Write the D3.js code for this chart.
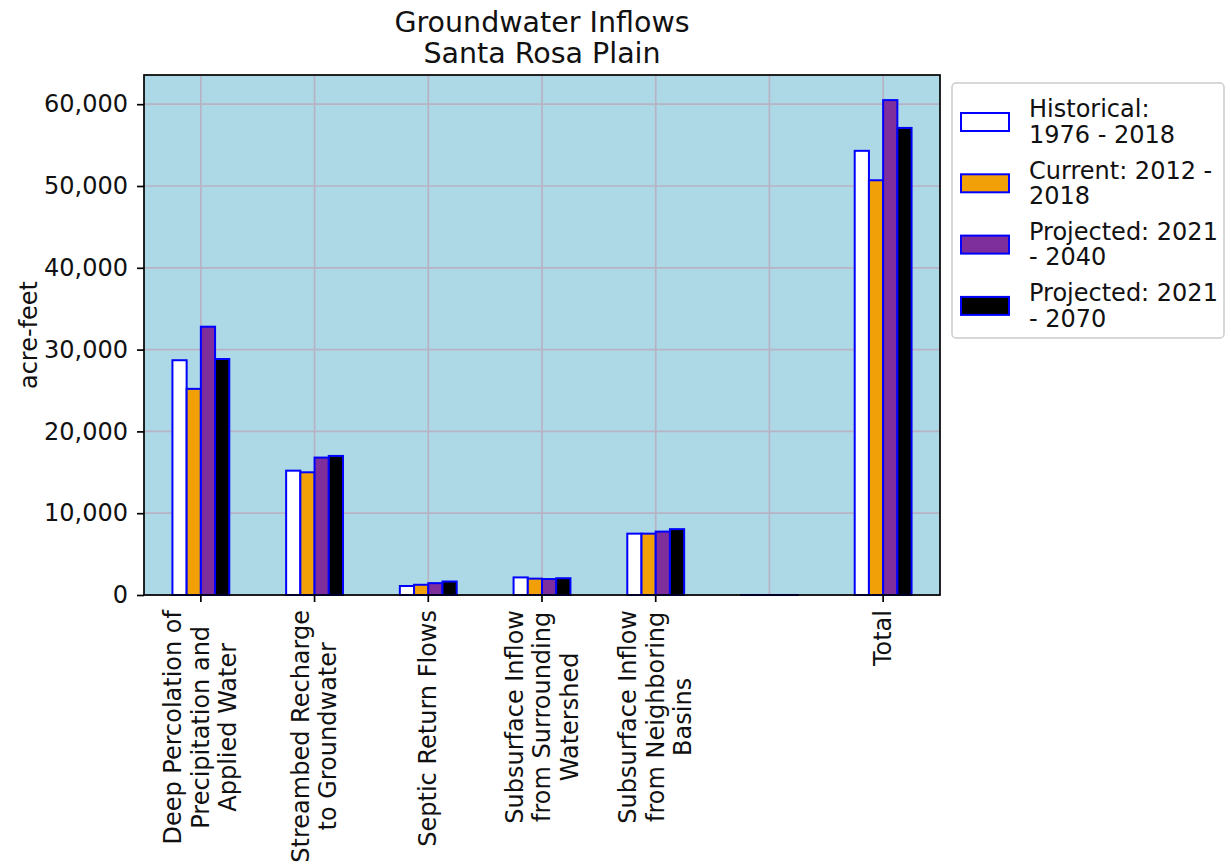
<!DOCTYPE html>
<html>
<head>
<meta charset="utf-8">
<script src="https://cdn.jsdelivr.net/npm/d3@7"></script>
<style>
  html, body { margin: 0; padding: 0; background: #ffffff; }
  svg { display: block; font-family: "DejaVu Sans", sans-serif; }
</style>
</head>
<body>
<svg id="chart" width="1231" height="867"></svg>
<script>
// Groundwater inflow budget components (acre-feet per year)
const categories = [
  "Deep Percolation of\nPrecipitation and\nApplied Water",
  "Streambed Recharge\nto Groundwater",
  "Septic Return Flows",
  "Subsurface Inflow\nfrom Surrounding\nWatershed",
  "Subsurface Inflow\nfrom Neighboring\nBasins",
  "",
  "Total"
];
const seriesNames = [
  "Historical:\n1976 - 2018",
  "Current: 2012 -\n2018",
  "Projected: 2021\n- 2040",
  "Projected: 2021\n- 2070"
];
const historical = [28700, 15200, 1100, 2150, 7500, 0, 54300];
const current    = [25200, 15000, 1250, 2000, 7500, 0, 50700];
const proj2040   = [32800, 16800, 1450, 1950, 7750, 0, 60500];
const proj2070   = [28850, 17000, 1650, 2050, 8050, 0, 57100];
const yTicks = [0, 10000, 20000, 30000, 40000, 50000, 60000];
const seriesColors = ["#ffffff", "#f2a007", "#7f2f9c", "#000000"];

const seriesValues = [historical, current, proj2040, proj2070];

const svg = d3.select("#chart");
const plot = { left: 144, right: 940, top: 75, bottom: 595 };
const fontSize = "24px";

// Category bands: one per slot, tick at band centre
const x = d3.scaleBand()
  .domain(d3.range(categories.length))
  .range([plot.left, plot.right])
  .padding(0);

// Four bars per slot occupying the middle half of the band
const xs = d3.scaleBand()
  .domain(d3.range(seriesNames.length))
  .range([0, x.bandwidth()])
  .paddingInner(0)
  .paddingOuter(2);

const y = d3.scaleLinear()
  .domain([0, 63570])
  .range([plot.bottom, plot.top]);

// Plot background
svg.append("rect")
  .attr("x", plot.left).attr("y", plot.top)
  .attr("width", plot.right - plot.left)
  .attr("height", plot.bottom - plot.top)
  .attr("fill", "#add8e6");

// Grid
const grid = svg.append("g");
grid.selectAll("line.h").data(yTicks).join("line")
  .attr("x1", plot.left).attr("x2", plot.right)
  .attr("y1", d => y(d)).attr("y2", d => y(d))
  .attr("stroke", "#b7b3c4").attr("stroke-width", 1.7);
grid.selectAll("line.v").data(d3.range(categories.length)).join("line")
  .attr("x1", d => x(d) + x.bandwidth() / 2).attr("x2", d => x(d) + x.bandwidth() / 2)
  .attr("y1", plot.top).attr("y2", plot.bottom)
  .attr("stroke", "#b7b3c4").attr("stroke-width", 1.7);

// Bars (zero-valued bars keep a hairline so their edge still shows)
const bars = svg.append("g");
seriesValues.forEach((vals, s) => {
  bars.append("g").selectAll("rect").data(vals).join("rect")
    .attr("x", (d, i) => x(i) + xs(s))
    .attr("y", d => Math.min(y(d), y(0) - 0.01))
    .attr("width", xs.bandwidth())
    .attr("height", d => Math.max(y(0) - y(d), 0.01))
    .attr("fill", seriesColors[s])
    .attr("stroke", "#0000ff")
    .attr("stroke-width", 2);
});

// Frame
svg.append("rect")
  .attr("x", plot.left).attr("y", plot.top)
  .attr("width", plot.right - plot.left)
  .attr("height", plot.bottom - plot.top)
  .attr("fill", "none").attr("stroke", "#000").attr("stroke-width", 1.7);

// Y axis
const yAxis = svg.append("g")
  .attr("transform", `translate(${plot.left},0)`)
  .call(d3.axisLeft(y).tickValues(yTicks).tickFormat(d3.format(",")).tickSize(7).tickPadding(9));
yAxis.select(".domain").remove();
yAxis.selectAll(".tick line").attr("stroke", "#000").attr("stroke-width", 1.7);
yAxis.selectAll(".tick text")
  .attr("fill", "#111")
  .style("font-size", fontSize)
  .style("font-family", "'DejaVu Sans', sans-serif");

// Y axis title
svg.append("text")
  .attr("transform", `translate(29,${(plot.top + plot.bottom) / 2}) rotate(-90)`)
  .attr("text-anchor", "middle")
  .attr("dominant-baseline", "central")
  .style("font-size", fontSize)
  .attr("fill", "#111")
  .text("acre-feet");

// X axis ticks (labelled slots only)
const labelled = d3.range(categories.length).filter(i => categories[i] !== "");
const xAxis = svg.append("g")
  .attr("transform", `translate(0,${plot.bottom})`)
  .call(d3.axisBottom(x).tickValues(labelled).tickFormat("").tickSize(7));
xAxis.select(".domain").remove();
xAxis.selectAll(".tick line").attr("stroke", "#000").attr("stroke-width", 1.7);

// Rotated multi-line category labels, block top anchored below the axis
const lineGap = 27.5;
labelled.forEach(i => {
  const lines = categories[i].split("\n");
  const cx = x(i) + x.bandwidth() / 2;
  const g = svg.append("g").attr("transform", `translate(${cx},${plot.bottom + 15}) rotate(-90)`);
  const texts = lines.map((ln, k) => g.append("text")
    .attr("text-anchor", "middle")
    .attr("dominant-baseline", "central")
    .attr("y", (k - (lines.length - 1) / 2) * lineGap)
    .style("font-size", fontSize)
    .attr("fill", "#111")
    .text(ln));
  const maxLen = d3.max(texts, t => t.node().getComputedTextLength());
  texts.forEach(t => t.attr("x", -maxLen / 2));
});

// Title
const title = svg.append("text")
  .attr("text-anchor", "middle")
  .style("font-size", "28.5px")
  .attr("fill", "#111");
title.append("tspan").attr("x", (plot.left + plot.right) / 2).attr("y", 32).text("Groundwater Inflows");
title.append("tspan").attr("x", (plot.left + plot.right) / 2).attr("y", 63).text("Santa Rosa Plain");

// Legend
const legend = svg.append("g");
legend.append("rect")
  .attr("x", 952).attr("y", 83).attr("width", 272).attr("height", 255)
  .attr("rx", 4).attr("ry", 4)
  .attr("fill", "#ffffff").attr("fill-opacity", 0.85)
  .attr("stroke", "#cccccc").attr("stroke-width", 1.5);
seriesNames.forEach((name, s) => {
  const cy = 122 + s * 61.3;
  legend.append("rect")
    .attr("x", 961).attr("y", cy - 9)
    .attr("width", 48).attr("height", 18)
    .attr("fill", seriesColors[s])
    .attr("stroke", "#0000ff").attr("stroke-width", 2);
  const lines = name.split("\n");
  lines.forEach((ln, k) => {
    legend.append("text")
      .attr("x", 1029)
      .attr("y", cy + (k - (lines.length - 1) / 2) * 25.5)
      .attr("dominant-baseline", "central")
      .style("font-size", fontSize)
      .attr("fill", "#111")
      .text(ln);
  });
});
</script>
</body>
</html>
